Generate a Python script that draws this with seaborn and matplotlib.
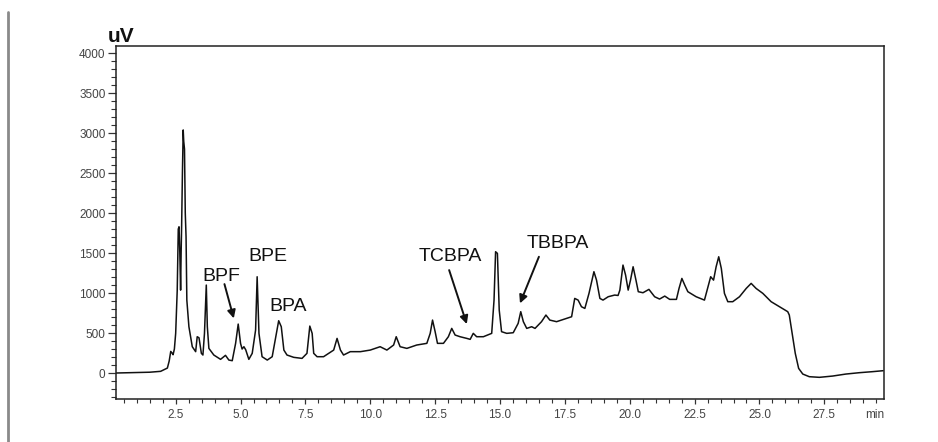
import matplotlib
matplotlib.use("Agg")
import matplotlib.pyplot as plt
from matplotlib.lines import Line2D
from matplotlib.ticker import MultipleLocator, FixedLocator, FuncFormatter
import seaborn as sns
import pandas as pd

# ---- data ----
time_min = [0.2, 0.6, 1.0, 1.5, 1.92, 2.18, 2.25, 2.31, 2.36, 2.40, 2.45, 2.50, 2.56, 2.60, 2.63,
            2.66, 2.69, 2.71, 2.73, 2.76, 2.79, 2.81, 2.84, 2.87, 2.90, 2.93, 3.01, 3.14, 3.27,
            3.33, 3.40, 3.49, 3.55, 3.61, 3.68, 3.72, 3.78, 3.97, 4.23, 4.42, 4.55, 4.68, 4.81,
            4.91, 5.00, 5.06, 5.13, 5.20, 5.32, 5.45, 5.58, 5.64, 5.71, 5.83, 6.03, 6.22, 6.38,
            6.47, 6.57, 6.67, 6.79, 7.05, 7.37, 7.56, 7.67, 7.76, 7.82, 7.95, 8.2, 8.59, 8.72,
            8.85, 8.97, 9.23, 9.62, 10.0, 10.38, 10.64, 10.9, 11.0, 11.15, 11.41, 11.79, 12.18,
            12.31, 12.4, 12.5, 12.59, 12.82, 13.01, 13.14, 13.27, 13.46, 13.72, 13.85, 13.97,
            14.1, 14.36, 14.68, 14.77, 14.83, 14.9, 14.97, 15.06, 15.26, 15.51, 15.7, 15.8,
            15.9, 16.03, 16.22, 16.35, 16.6, 16.77, 16.92, 17.18, 17.56, 17.76, 17.88, 18.01,
            18.14, 18.27, 18.43, 18.62, 18.72, 18.85, 18.97, 19.17, 19.42, 19.55, 19.62, 19.74,
            19.84, 19.94, 20.03, 20.13, 20.24, 20.33, 20.51, 20.74, 20.96, 21.15, 21.35, 21.54,
            21.8, 21.9, 22.01, 22.12, 22.24, 22.56, 22.88, 23.0, 23.12, 23.23, 23.33, 23.43,
            23.53, 23.65, 23.78, 23.97, 24.23, 24.49, 24.68, 24.87, 25.13, 25.45, 25.77, 26.09,
            26.15, 26.26, 26.38, 26.51, 26.67, 26.92, 27.31, 27.82, 28.33, 28.85, 29.36, 29.77]
signal_uv = [0, 3, 5, 10, 21, 62, 150, 270, 250, 229, 300, 496, 1037, 1800, 1829,
             1500, 1037, 1500, 1850, 2500, 3040, 2900, 2800, 2000, 1704, 912, 579, 329, 267,
             454, 440, 246, 225, 496, 1100, 579, 308, 225, 171, 221, 162, 154, 371,
             612, 371, 300, 329, 290, 171, 246, 537, 1204, 496, 204, 162, 204, 496,
             654, 579, 287, 225, 196, 183, 246, 587, 496, 246, 204, 204, 287, 433,
             287, 225, 267, 267, 287, 329, 287, 350, 454, 329, 308, 350, 371,
             496, 662, 517, 371, 371, 454, 558, 475, 454, 433, 421, 496,
             454, 454, 496, 912, 1517, 1496, 787, 517, 496, 504, 621, 767,
             642, 558, 579, 558, 642, 725, 662, 642, 683, 704, 933, 912,
             829, 808, 996, 1267, 1162, 933, 912, 954, 975, 970, 1037, 1350,
             1225, 1037, 1162, 1329, 1162, 1017, 1004, 1046, 954, 925, 962, 921,
             921, 1058, 1183, 1100, 1017, 954, 912, 1058, 1204, 1162, 1329, 1454,
             1308, 996, 892, 892, 954, 1058, 1121, 1058, 996, 892, 829, 767,
             725, 496, 246, 58, -13, -46, -54, -38, -13, 4, 17, 29]

x_tick_values = [2.5, 5.0, 7.5, 10.0, 12.5, 15.0, 17.5, 20.0, 22.5, 25.0, 27.5]
y_tick_values = [0, 500, 1000, 1500, 2000, 2500, 3000, 3500, 4000]

labels = ["BPF", "BPE", "BPA", "TCBPA", "TBBPA"]
label_x = [4.27, 6.04, 6.85, 13.1, 17.22]
label_y = [1212, 1456, 829, 1456, 1625]
arrow_tail_x = [4.38, 13.04, 16.5]
arrow_tail_y = [1112, 1287, 1454]
arrow_head_x = [4.74, 13.72, 15.77]
arrow_head_y = [683, 612, 871]

df = pd.DataFrame({"time": time_min, "signal": signal_uv})

sns.set_style("ticks")
plt.rcParams["font.family"] = ["Liberation Sans", "DejaVu Sans"]

fig = plt.figure(figsize=(9.38, 4.42), dpi=100)
ax = fig.add_axes([116 / 938, 1 - 399 / 442, (884 - 116) / 938, (399 - 46) / 442])

sns.lineplot(data=df, x="time", y="signal", ax=ax, color="#111111", linewidth=1.1,
             sort=False, estimator=None)

ax.set_xlim(0.2, 29.8)
ax.set_ylim(-325, 4090)
ax.set_xlabel("")
ax.set_ylabel("")

ax.xaxis.set_major_locator(FixedLocator(x_tick_values))
ax.xaxis.set_major_formatter(FuncFormatter(lambda v, p: f"{v:.1f}"))
ax.xaxis.set_minor_locator(MultipleLocator(0.5))
ax.yaxis.set_major_locator(FixedLocator(y_tick_values))
ax.yaxis.set_minor_locator(MultipleLocator(100))

ax.tick_params(axis="both", which="both", bottom=True, left=True, top=False, right=False,
               direction="out", colors="#333333")
ax.tick_params(axis="both", which="major", labelsize=8.5, labelcolor="#444444")
ax.tick_params(axis="y", which="major", length=6, width=0.9, pad=1.5)
ax.tick_params(axis="y", which="minor", length=3.5, width=0.8)
ax.tick_params(axis="x", which="major", length=3.5, width=0.9, pad=4)
ax.tick_params(axis="x", which="minor", length=3, width=0.8)

for s in ax.spines.values():
    s.set_visible(True)
    s.set_color("#222222")
    s.set_linewidth(1.1)

ax.text(1.0, -0.028, "min", transform=ax.transAxes, ha="right", va="top",
        fontsize=8.5, color="#444444")
fig.text(121 / 938, 1 - 37 / 442, "uV", ha="center", va="center", fontsize=15,
         fontweight="bold", color="#111111")

for lab, lx, ly in zip(labels, label_x, label_y):
    ax.text(lx, ly, lab, ha="center", va="center", fontsize=14, color="#111111")

for tx, ty, hx, hy in zip(arrow_tail_x, arrow_tail_y, arrow_head_x, arrow_head_y):
    ax.annotate("", xy=(hx, hy), xytext=(tx, ty),
                arrowprops=dict(arrowstyle="-|>", color="#111111", lw=1.4,
                                mutation_scale=12, shrinkA=0, shrinkB=0))

fig.add_artist(Line2D([8 / 938, 8 / 938], [0, 1 - 12 / 442], transform=fig.transFigure,
                      color="#8a8a8a", linewidth=2))

fig.savefig("out.png", dpi=100)
